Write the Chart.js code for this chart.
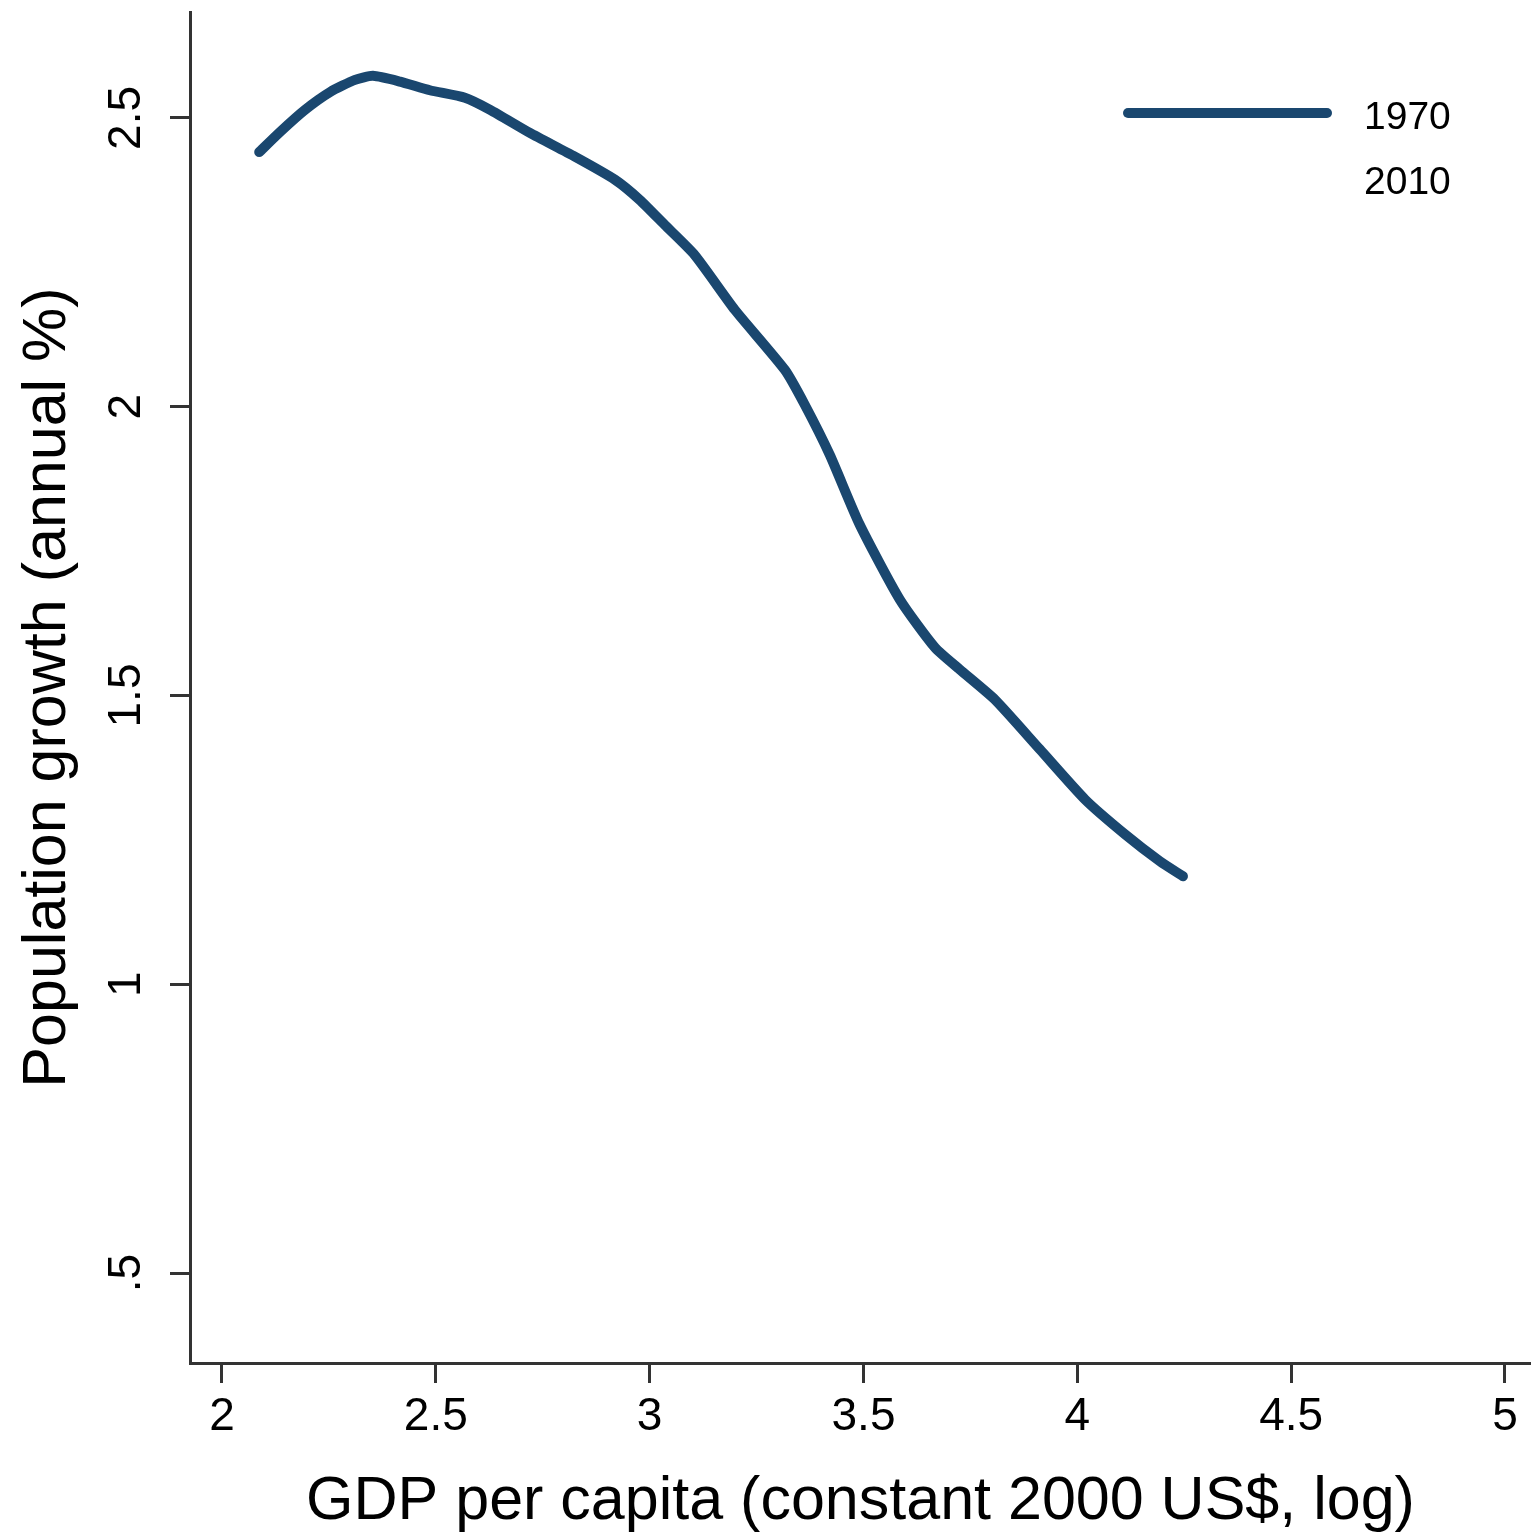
<!DOCTYPE html>
<html>
<head>
<meta charset="utf-8">
<script src="https://cdn.jsdelivr.net/npm/chart.js@4/dist/chart.umd.min.js"></script>
<style>
  body { margin: 0; background: #fff; }
  #wrap { width: 1531px; height: 1533px; }
</style>
</head>
<body>
<div id="wrap"><canvas id="chart"></canvas></div>
<script>
// data (log GDP per capita vs population growth)
const gdpLog = [2.087, 2.136, 2.194, 2.253, 2.311, 2.353, 2.416, 2.486, 2.568, 2.627,
  2.720, 2.825, 2.919, 2.977, 3.035, 3.105, 3.199, 3.316, 3.363, 3.421,
  3.491, 3.585, 3.667, 3.725, 3.807, 3.912, 4.018, 4.111, 4.193, 4.247];
const growth1970 = [2.441, 2.476, 2.514, 2.545, 2.566, 2.573, 2.563, 2.548, 2.535, 2.514,
  2.474, 2.433, 2.393, 2.358, 2.315, 2.263, 2.168, 2.064, 2.003, 1.917,
  1.796, 1.666, 1.583, 1.545, 1.493, 1.407, 1.320, 1.260, 1.213, 1.187];
const growth2010 = [];
const seriesNames = ['1970', '2010'];
const xTicks = [2, 2.5, 3, 3.5, 4, 4.5, 5];
const xTickLabels = ['2', '2.5', '3', '3.5', '4', '4.5', '5'];
const yTicks = [0.5, 1, 1.5, 2, 2.5];
const yTickLabels = ['.5', '1', '1.5', '2', '2.5'];

const navy = '#1a476f';
const axisCol = '#333';
const fontFam = '"Liberation Sans", Arial, Helvetica, sans-serif';

// y tick labels are rotated like Stata draws them
const yLabelsPlugin = {
    id: 'yLabels',
    afterDraw(chart) {
        const ctx = chart.ctx;
        const y = chart.scales.y;
        ctx.save();
        ctx.fillStyle = '#000';
        ctx.font = '46px ' + fontFam;
        ctx.textAlign = 'center';
        ctx.textBaseline = 'middle';
        yTicks.forEach(function (v, i) {
            ctx.save();
            ctx.translate(127, y.getPixelForValue(v));
            ctx.rotate(-Math.PI / 2);
            ctx.fillText(yTickLabels[i], 0, 0);
            ctx.restore();
        });
        ctx.restore();
    }
};

// legend: line sample for 1970, nothing drawn for 2010
const legendPlugin = {
    id: 'stataLegend',
    afterDraw(chart) {
        const ctx = chart.ctx;
        ctx.save();
        ctx.font = '39px ' + fontFam;
        ctx.textBaseline = 'middle';
        ctx.fillStyle = '#000';
        chart.data.datasets.forEach(function (ds, i) {
            const yy = 116 + i * 65;
            if (ds.data.length) {
                ctx.strokeStyle = ds.borderColor;
                ctx.lineWidth = 10;
                ctx.lineCap = 'round';
                ctx.beginPath();
                ctx.moveTo(1128, yy - 3);
                ctx.lineTo(1327, yy - 3);
                ctx.stroke();
            }
            ctx.fillText(ds.label, 1364, yy + 2);
        });
        ctx.restore();
    }
};

new Chart(document.getElementById('chart'), {
    type: 'scatter',
    data: {
        datasets: [{
            label: seriesNames[0],
            data: gdpLog.map((x, i) => ({ x: x, y: growth1970[i] })),
            showLine: true,
            borderColor: navy,
            borderWidth: 10,
            borderCapStyle: 'round',
            borderJoinStyle: 'round',
            pointRadius: 0,
            tension: 0.2
        }, {
            label: seriesNames[1],
            data: growth2010,
            showLine: true,
            borderColor: '#90353b',
            borderWidth: 10,
            pointRadius: 0
        }]
    },
    options: {
        responsive: true,
        maintainAspectRatio: false,
        animation: false,
        layout: { padding: { top: 12, right: 0, left: 0, bottom: 0 } },
        plugins: {
            legend: { display: false },
            tooltip: { enabled: false }
        },
        scales: {
            x: {
                type: 'linear',
                min: 1.9252,
                max: 5.0608,
                afterFit(scale) { scale.height = 170; },
                afterBuildTicks(scale) { scale.ticks = xTicks.map(v => ({ value: v })); },
                border: { display: true, color: axisCol, width: 3 },
                grid: { drawOnChartArea: false, tickLength: 20, tickColor: axisCol, tickWidth: 3 },
                ticks: {
                    color: '#000',
                    font: { family: fontFam, size: 46 },
                    padding: 7,
                    maxRotation: 0,
                    callback: (v) => xTickLabels[xTicks.indexOf(v)]
                },
                title: {
                    display: true,
                    text: 'GDP per capita (constant 2000 US$, log)',
                    color: '#000',
                    font: { family: fontFam, size: 61 },
                    padding: { top: 0, bottom: -6 }
                }
            },
            y: {
                type: 'linear',
                min: 0.3442,
                max: 2.6835,
                afterFit(scale) { scale.width = 190; },
                afterBuildTicks(scale) { scale.ticks = yTicks.map(v => ({ value: v })); },
                border: { display: true, color: axisCol, width: 3 },
                grid: { drawOnChartArea: false, tickLength: 20, tickColor: axisCol, tickWidth: 3 },
                ticks: { display: false },
                title: {
                    display: true,
                    text: 'Population growth (annual %)',
                    color: '#000',
                    font: { family: fontFam, size: 61 },
                    padding: { top: 12, bottom: 0 }
                }
            }
        }
    },
    plugins: [yLabelsPlugin, legendPlugin]
});
</script>
</body>
</html>
